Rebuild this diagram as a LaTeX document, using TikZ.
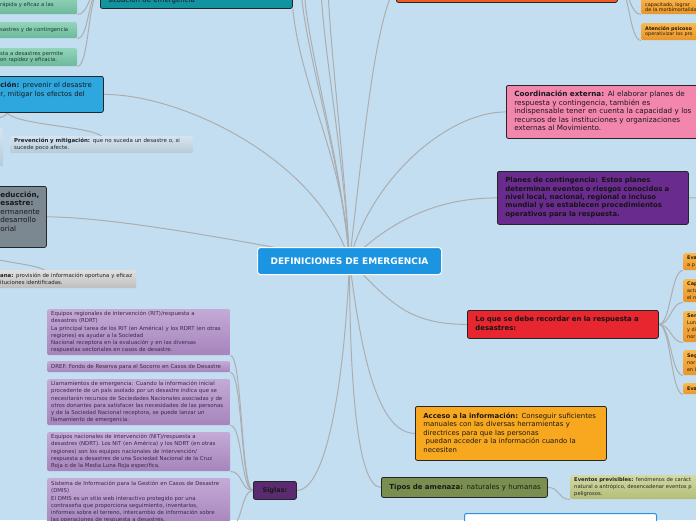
\documentclass[tikz,border=0pt]{standalone}
\usepackage{fontspec}
\setmainfont{DejaVu Sans}
\usetikzlibrary{backgrounds}

\definecolor{bgblue}{RGB}{196,222,241}
\definecolor{linkgray}{RGB}{170,174,176}
\definecolor{centreblue}{RGB}{27,148,226}
\definecolor{tealbox}{RGB}{18,148,160}
\definecolor{minttop}{RGB}{146,212,186}
\definecolor{mintbot}{RGB}{108,184,155}
\definecolor{minttext}{RGB}{28,58,48}
\definecolor{prevblue}{RGB}{46,166,222}
\definecolor{hazetop}{RGB}{214,228,239}
\definecolor{hazebot}{RGB}{184,202,216}
\definecolor{hazetext}{RGB}{25,35,45}
\definecolor{greybox}{RGB}{124,136,145}
\definecolor{ashtop}{RGB}{224,224,224}
\definecolor{ashbot}{RGB}{190,190,190}
\definecolor{lilactop}{RGB}{196,170,214}
\definecolor{lilacbot}{RGB}{166,132,188}
\definecolor{lilactext}{RGB}{58,40,70}
\definecolor{siglaspurple}{RGB}{92,42,112}
\definecolor{topred}{RGB}{240,90,36}
\definecolor{ambertop}{RGB}{249,184,80}
\definecolor{amberbot}{RGB}{233,150,42}
\definecolor{ambertext}{RGB}{40,25,0}
\definecolor{pinkbox}{RGB}{243,134,173}
\definecolor{purplebox}{RGB}{106,43,142}
\definecolor{recallred}{RGB}{232,38,47}
\definecolor{accesoorange}{RGB}{248,168,31}
\definecolor{mossbox}{RGB}{122,143,79}
\definecolor{mosstop}{RGB}{211,217,163}
\definecolor{mossbot}{RGB}{179,190,120}
\definecolor{lastblue}{RGB}{47,143,224}

\newcommand{\fsz}[2]{\fontsize{#1}{#2}\selectfont}
\newcommand{\rows}[2][0pt]{\noindent\begin{tabular}{@{\hspace{#1}}l@{}}#2\end{tabular}}

\begin{document}
\begin{tikzpicture}[
    x=1pt, y=-1pt,
    every node/.style={anchor=north west, inner ysep=0pt},
    topic/.style={draw=black!85, line width=0.8pt, rounded corners=2pt,
                  inner xsep=8pt, align=left, text=black!90},
    leaf/.style={rounded corners=2pt, inner xsep=4pt, align=left},
    mint/.style={leaf, top color=minttop, bottom color=mintbot, text=minttext,
                 font=\fsz{5.3}{6.7}},
    haze/.style={leaf, top color=hazetop, bottom color=hazebot, text=hazetext,
                 font=\fsz{5.45}{7.3}},
    ash/.style={leaf, top color=ashtop, bottom color=ashbot, text=black!88,
                font=\fsz{5.4}{7.3}},
    lilac/.style={leaf, top color=lilactop, bottom color=lilacbot, text=lilactext,
                  font=\fsz{5.4}{7.3}},
    amber/.style={leaf, top color=ambertop, bottom color=amberbot, text=ambertext,
                  font=\fsz{4.9}{7}},
    moss/.style={leaf, top color=mosstop, bottom color=mossbot, text=black!85,
                 font=\fsz{5.2}{6.7}},
    link/.style={draw=linkgray, line width=1pt},
  ]
  \useasboundingbox (0,0) rectangle (696,520);

  % central topic
  \node[draw=white, line width=1pt, rounded corners=3pt, fill=centreblue, text=white,
        minimum width=184pt, minimum height=27pt, inner xsep=0pt, align=center,
        font=\bfseries\fsz{9}{10}] (centre) at (257,247) {DEFINICIONES DE EMERGENCIA};

  % left branches
  \node[topic, fill=tealbox, text width=176pt, text height=30pt, text depth=6pt,
        font=\fsz{7}{8.4}] (teal) at (100,-28) {\rows{situación de emergencia}};
  \node[mint, text width=175pt, minimum height=18pt] (mintA) at (-106,-4)
    {\rows[102pt]{rápida y eficaz a las}};
  \node[mint, text width=175pt, minimum height=16pt] (mintB) at (-106,22)
    {\rows[102pt]{sastres y de contingencia}};
  \node[mint, text width=175pt, minimum height=18pt] (mintC) at (-106,48)
    {\rows[102pt]{sta a desastres permite\\on rapidez y eficacia.}};

  \node[topic, fill=prevblue, text width=177pt, minimum height=36pt,
        font=\fsz{6.9}{8.5}] (prev) at (-90,76)
    {\rows[82pt]{\textbf{ción:} prevenir el desastre\\r, mitigar los efectos del\\~}};
  \node[haze, text width=175pt, minimum height=17pt] (prevmit) at (10,136)
    {\rows{\textbf{Prevención y mitigación:} que no suceda un desastre o, si\\sucede poco afecte.}};
  \node[haze, text width=165pt, minimum height=38pt] (leftbox) at (-170,128) {};

  \node[topic, fill=greybox, text width=130pt, minimum height=61pt,
        font=\fsz{7.2}{8.6}] (grey) at (-100,186)
    {\rows[92pt]{\textbf{educción,}\\\textbf{esastre:}\\ermanente\\desarrollo\\orial\\~}};
  \node[ash, text width=175pt, minimum height=18pt] (greylt) at (-47,270)
    {\rows[43pt]{\textbf{ana:} provisión de información oportuna y eficaz\\ituciones identificadas.}};

  % acronyms
  \node[topic, fill=siglaspurple, minimum width=43pt, minimum height=18pt,
        inner xsep=0pt, align=center, font=\bfseries\fsz{6.5}{7}] (siglas) at (253,481) {Siglas:};
  \node[lilac, text width=175pt, minimum height=46pt] (rit) at (47,309)
    {\rows{Equipos regionales de intervención (RIT)/respuesta a\\desastres (RDRT)\\
     La principal tarea de los RIT (en América) y los RDRT (en otras\\regiones) es ayudar a la Sociedad\\
     Nacional receptora en la evaluación y en las diversas\\respuestas sectoriales en casos de desastre.}};
  \node[lilac, text width=175pt, minimum height=11pt] (dref) at (47,361)
    {\rows{DREF: Fondo de Reserva para el Socorro en Casos de Desastre}};
  \node[lilac, text width=175pt, minimum height=46pt] (llam) at (47,379)
    {\rows{Llamamientos de emergencia: Cuando la información inicial\\
     procedente de un país asolado por un desastre indica que se\\
     necesitarán recursos de Sociedades Nacionales asociadas y de\\
     otros donantes para satisfacer las necesidades de las personas\\
     y de la Sociedad Nacional receptora, se puede lanzar un\\llamamiento de emergencia.}};
  \node[lilac, text width=175pt, minimum height=39pt] (nit) at (47,432)
    {\rows{Equipos nacionales de intervención (NIT)/respuesta a\\
     desastres (NDRT). Los NIT (en América) y los NDRT (en otras\\
     regiones) son los equipos nacionales de intervención/\\
     respuesta a desastres de una Sociedad Nacional de la Cruz\\
     Roja o de la Media Luna Roja específica.}};
  \node[lilac, text width=175pt, minimum height=48pt] (dmis) at (47,478)
    {\rows{Sistema de Información para la Gestión en Casos de Desastre\\(DMIS)\\
     El DMIS es un sitio web interactivo protegido por una\\
     contraseña que proporciona seguimiento, inventarios,\\
     informes sobre el terreno, intercambio de información sobre\\
     las operaciones de respuesta a desastres,}};

  % right branches
  \node[topic, fill=topred, text width=205pt, minimum height=32pt] (topred) at (396,-30) {};
  \node[amber, text width=52pt, minimum height=18pt, font=\fsz{4.9}{5.6}] (amberA) at (641,-4)
    {\rows{~\\capacitado, lograr\\de la morbimortalidad}};
  \node[amber, text width=52pt, minimum height=17pt, font=\fsz{4.9}{5.6}] (amberB) at (641,23)
    {\rows{\textbf{Atención psicoso}\\operativizar los pro}};

  \node[topic, fill=pinkbox, text width=175pt, minimum height=53pt,
        font=\fsz{7.2}{8.5}] (pink) at (506,85)
    {\rows{\textbf{Coordinación externa:} Al elaborar planes de\\respuesta y contingencia, también es\\
     indispensable tener en cuenta la capacidad y los\\recursos de las instituciones y organizaciones\\
     externas al Movimiento.}};
  \node[topic, fill=purplebox, text width=175pt, minimum height=53pt, text=black!92,
        font=\bfseries\fsz{6.9}{8.4}] (purple) at (497,171)
    {\rows{Planes de contingencia: Estos planes\\determinan eventos o riesgos conocidos a\\
     nivel local, nacional, regional o incluso\\mundial y se establecen procedimientos\\
     operativos para la respuesta.}};
  \node[topic, fill=recallred, text width=175pt, minimum height=28pt, text=black!92,
        font=\bfseries\fsz{6.9}{8.3}] (recall) at (467,310)
    {\rows{Lo que se debe recordar en la respuesta a\\desastres:}};
  \node[amber, text width=30pt, minimum height=17pt] (recA) at (683,253) {\rows{\textbf{Eva}\\a p}};
  \node[amber, text width=30pt, minimum height=23pt] (recB) at (683,279) {\rows{\textbf{Cap}\\acta\\el n}};
  \node[amber, text width=30pt, minimum height=31pt] (recC) at (683,311) {\rows{\textbf{Ser}\\Lun\\y di\\nor}};
  \node[amber, text width=30pt, minimum height=25pt] (recD) at (683,350) {\rows{\textbf{Seg}\\nor\\en l}};
  \node[amber, text width=30pt, minimum height=11pt] (recE) at (683,383) {\rows{\textbf{Eva}}};

  \node[topic, fill=accesoorange, text width=175pt, minimum height=54pt,
        font=\fsz{6.9}{8.5}] (acceso) at (415,406)
    {\rows{\textbf{Acceso a la información:} Conseguir suficientes\\manuales con las diversas herramientas y\\
     directrices para que las personas\\\ puedan acceder a la información cuando la\\necesiten}};
  \node[topic, fill=mossbox, text width=150pt, minimum height=20pt,
        font=\fsz{7}{8.5}] (tipos) at (381,477)
    {\rows{\textbf{Tipos de amenaza:} naturales y humanas}};
  \node[moss, text width=175pt, minimum height=24pt] (eventos) at (570,475)
    {\rows{\textbf{Eventos previsibles:} fenómenos de caráct\\natural o antrópico, desencadenar eventos p\\peligrosos.}};
  \node[topic, draw=lastblue, line width=1pt, fill=white, text width=176pt,
        minimum height=20pt] (lastbox) at (464,513) {};

  % free ends of links that leave the picture
  \coordinate (up1) at (301,-12);
  \coordinate (up2) at (304,-12);
  \coordinate (up3) at (321,-12);
  \coordinate (up4) at (328,-12);
  \coordinate (pout) at (712,198);

  \begin{scope}[on background layer]
    \fill[bgblue] (0,0) rectangle (696,520);
    % links from the central topic
    \draw[link] (centre.center) .. controls +(-5,-100) and +(8,80) .. (teal.south east);
    \draw[link] (centre.center) .. controls +(-8,-100) and +(3,60) .. (up1);
    \draw[link] (centre.center) .. controls +(-8,-100) and +(3,60) .. (up2);
    \draw[link] (centre.center) .. controls +(-5,-100) and +(2,60) .. (up3);
    \draw[link] (centre.center) .. controls +(-5,-100) and +(2,60) .. (up4);
    \draw[link] (centre.center) .. controls +(15,-130) and +(-20,30) .. (topred.west);
    \draw[link] (centre.center) .. controls +(-30,-100) and +(80,0) .. (prev.east);
    \draw[link] (centre.center) .. controls +(-60,-10) and +(80,0) .. (grey.east);
    \draw[link] (centre.center) .. controls +(20,-80) and +(-60,0) .. (pink.west);
    \draw[link] (centre.center) .. controls +(40,-40) and +(-60,0) .. (purple.west);
    \draw[link] (centre.center) .. controls +(40,40) and +(-60,0) .. (recall.west);
    \draw[link] (centre.center) .. controls +(10,80) and +(-40,0) .. (acceso.west);
    \draw[link] (centre.center) .. controls +(0,110) and +(-25,0) .. (tipos.west);
    \draw[link] (centre.center) .. controls +(-5,120) and +(30,0) .. (siglas.east);
    % links to the sub-topics
    \foreach \n in {mintA,mintB,mintC}
      \draw[link] (teal.west) .. controls +(-12,0) and +(12,0) .. (\n.south east);
    \draw[link] (prev.south) .. controls +(10,12) and +(-15,-10) .. (prevmit.north);
    \draw[link] (prev.south) .. controls +(0,10) and +(20,-5) .. (leftbox.north);
    \draw[link] (grey.south) .. controls +(10,15) and +(-15,-8) .. (greylt.north);
    \foreach \n in {rit,dref,llam,nit,dmis}
      \draw[link] (siglas.west) .. controls +(-12,0) and +(12,0) .. (\n.south east);
    \foreach \n in {amberA,amberB}
      \draw[link] (topred.east) .. controls +(12,0) and +(-12,0) .. (\n.south west);
    \foreach \n in {recA,recB,recC,recD,recE}
      \draw[link] (recall.east) .. controls +(12,0) and +(-12,0) .. (\n.south west);
    \draw[link] (purple.east) -- (pout);
    \draw[link] (tipos.east) .. controls +(12,0) and +(-12,0) .. (eventos.south west);
  \end{scope}
\end{tikzpicture}
\end{document}
